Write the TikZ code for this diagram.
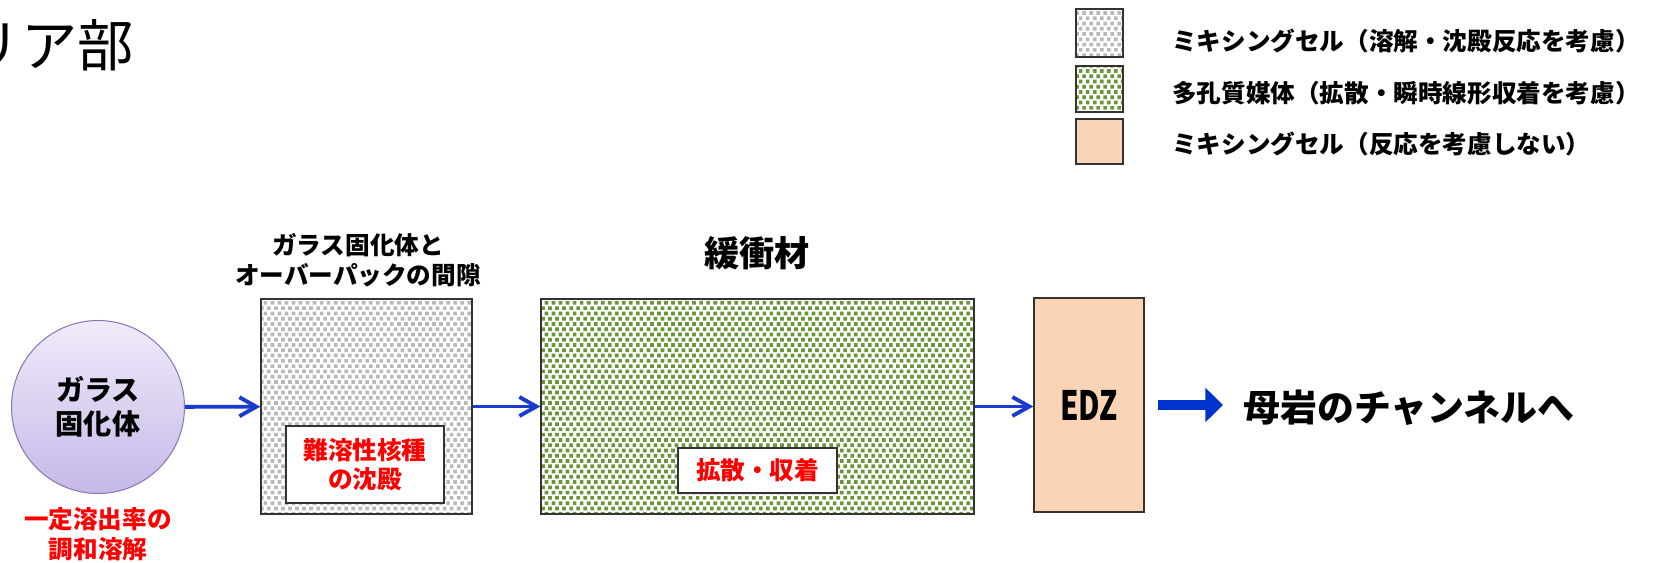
\documentclass[tikz,border=0pt]{standalone}
\usepackage{fontspec}
\setmainfont{Noto Sans CJK JP}
\usetikzlibrary{arrows.meta,patterns}

\definecolor{flowblue}{RGB}{25,60,205}
\definecolor{bigblue}{RGB}{0,50,205}
\definecolor{peach}{RGB}{250,212,180}
\definecolor{dotgreen}{RGB}{105,150,55}
\definecolor{glasstop}{RGB}{240,235,250}
\definecolor{glassbot}{RGB}{198,184,232}
\definecolor{glassline}{RGB}{140,120,180}

% small square dots for the cells
\pgfdeclarepatternformonly{celldots}{\pgfqpoint{-1pt}{-1pt}}{\pgfqpoint{5pt}{7pt}}{\pgfqpoint{4pt}{6pt}}{
  \pgfpathrectangle{\pgfqpoint{0pt}{0pt}}{\pgfqpoint{2.1pt}{2.1pt}}
  \pgfpathrectangle{\pgfqpoint{2pt}{3pt}}{\pgfqpoint{2.1pt}{2.1pt}}
  \pgfusepath{fill}
}

\newcommand{\fs}[1]{\fontsize{#1}{1.2\dimexpr#1\relax}\selectfont}

\tikzset{
  cell/.style={draw=black!80, line width=0.8pt, inner sep=0pt},
  mixcell/.style={cell, preaction={fill=white}, pattern=celldots, pattern color=gray!55},
  porecell/.style={cell, preaction={fill=white}, pattern=celldots, pattern color=dotgreen},
  plaincell/.style={cell, fill=peach},
  keytext/.style={anchor=west, inner sep=0pt, font=\bfseries\fs{14pt}},
  redbox/.style={draw=black!80, line width=0.8pt, fill=white, text=red, font=\bfseries\fs{14pt}, align=center, inner sep=0pt},
  flow/.style={draw=flowblue, line width=2.2pt, -{Straight Barb[length=3.4mm, width=3.8mm]}},
  bigflow/.style={draw=bigblue, line width=5.5pt, -{Triangle[length=10pt, width=19pt]}},
}

\begin{document}
\begin{tikzpicture}[x=0.02cm, y=-0.02cm]
    \useasboundingbox (0,0) rectangle (1670,563);

    \node[anchor=east, inner sep=0pt, font=\fs{32pt}] (part) at (134,45) {リア部};

    % legend
    \node[mixcell, minimum width=0.94cm, minimum height=0.96cm] (legmix) at (1099.5,33) {};
    \node[porecell, minimum width=0.94cm, minimum height=0.92cm] (legpore) at (1099.5,89) {};
    \node[plaincell, minimum width=0.94cm, minimum height=0.9cm] (legplain) at (1099.5,141.5) {};
    \node[keytext] (legmixtext) at (1172,41) {ミキシングセル（溶解・沈殿反応を考慮）};
    \node[keytext] (legporetext) at (1172,93) {多孔質媒体（拡散・瞬時線形収着を考慮）};
    \node[keytext] (legplaintext) at (1172,144) {ミキシングセル（反応を考慮しない）};

    % glass
    \node[circle, draw=glassline, line width=0.6pt, top color=glasstop, bottom color=glassbot,
          minimum size=3.46cm, align=center, font=\bfseries\fs{16pt}] (glass) at (98,407) {ガラス\\固化体};
    \node[align=center, text=red, font=\bfseries\fs{14pt}] (glassnote) at (98,534) {一定溶出率の\\調和溶解};

    % gap
    \node[mixcell, minimum width=4.22cm, minimum height=4.3cm] (gap) at (366.5,406.5) {};
    \node[align=center, font=\bfseries\fs{14pt}] (gaptitle) at (358,260) {ガラス固化体と\\オーバーパックの間隙};
    \node[redbox, minimum width=3.16cm, minimum height=1.54cm] (gapnote) at (365,464.5) {難溶性核種\\の沈殿};

    % buffer
    \node[porecell, minimum width=8.66cm, minimum height=4.3cm] (buffer) at (757.5,406.5) {};
    \node[font=\bfseries\fs{20pt}] (buffertitle) at (757,253) {緩衝材};
    \node[redbox, minimum width=3.18cm, minimum height=0.9cm] (buffernote) at (757.5,470.5) {拡散・収着};

    % EDZ
    \node[plaincell, minimum width=2.2cm, minimum height=4.28cm, font=\bfseries\fs{23pt}] (edz) at (1089,405) {\scalebox{0.73}[1]{EDZ}};
    \node[anchor=west, inner sep=0pt, font=\bfseries\fs{21pt}] (rock) at (1243,408) {母岩のチャンネルへ};

    \draw[flow] (glass) -- (gap);
    \draw[flow] (gap) -- (buffer);
    \draw[flow] (buffer.east) -- (buffer.east -| edz.west);
    \draw[bigflow, shorten <=0.26cm, shorten >=0.4cm] (edz.east) -- (edz.east -| rock.west);

\end{tikzpicture}
\end{document}
